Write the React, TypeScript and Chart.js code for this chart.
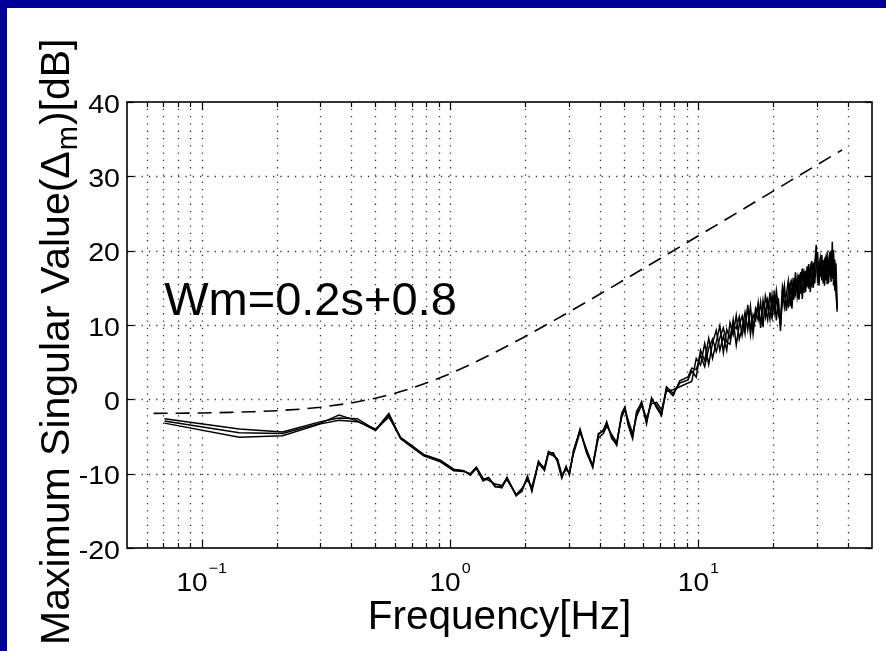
import React, { useEffect, useRef } from 'react';
import { Chart, registerables } from 'chart.js';

Chart.register(...registerables);

// ---- data ----
const freqHz = [
  0.0708, 0.1416, 0.2115, 0.3013, 0.357, 0.423, 0.501, 0.567, 0.632, 0.699,
  0.783, 0.914, 1.034, 1.134, 1.206, 1.275, 1.357, 1.429, 1.52, 1.617,
  1.694, 1.846, 1.946, 2.049, 2.135, 2.269, 2.399, 2.489, 2.607, 2.705,
  2.818, 2.932, 3.023, 3.137, 3.337, 3.55, 3.753, 3.953, 4.14, 4.272,
  4.474, 4.686, 4.908, 5.058, 5.215, 5.432, 5.637, 5.903, 6.182, 6.474,
  6.781, 7.102, 7.437, 7.907, 8.412, 9.082,
  9.4, 9.8, 10.2, 10.6, 11.0, 11.4, 11.8, 12.2, 12.6, 13.0,
  13.4, 13.8, 14.2, 14.6, 15.0, 15.4, 15.8, 16.2, 16.6, 17.0,
  17.4, 17.8, 18.2, 18.6, 19.0, 19.4, 19.8, 20.2, 20.6, 21.0,
  21.4, 21.8, 22.2, 22.6, 23.0, 23.4, 23.8, 24.2, 24.6, 25.0,
  25.4, 25.8, 26.2, 26.6, 27.0, 27.4, 27.8, 28.2, 28.6, 29.0,
  29.4, 29.8, 30.2, 30.6, 31.0, 31.4, 31.8, 32.2, 32.6, 33.0,
  33.4, 33.8, 34.2, 34.6, 35.0, 35.4, 35.8, 36.2,
];

const svCase1 = [
  -2.6, -4.0, -4.4, -3.0, -2.5, -2.6, -4.1, -1.9, -5.2, -6.3,
  -7.5, -8.3, -9.5, -9.6, -10.1, -9.2, -10.8, -10.5, -11.7, -11.9,
  -10.6, -13.0, -12.2, -10.5, -12.2, -8.3, -9.4, -7.0, -7.4, -8.2,
  -10.4, -9.2, -10.0, -7.1, -4.0, -7.1, -9.2, -4.8, -4.1, -3.2,
  -5.0, -6.2, -1.9, -1.0, -3.2, -5.0, -1.9, -0.3, -3.0, -0.1,
  -0.8, -1.9, 1.7, 0.8, 2.2, 2.6,
  3.8, 3.0, 6.6, 5.2, 8.2, 5.5, 7.7, 9.9, 6.3, 9.4,
  8.2, 10.7, 7.3, 10.0, 11.2, 8.9, 12.7, 8.7, 11.4, 10.6,
  13.0, 9.6, 12.8, 12.2, 10.7, 14.4, 11.8, 14.0, 10.6, 13.6,
  9.2, 14.8, 12.4, 14.1, 15.9, 12.5, 15.1, 14.2, 17.1, 13.8,
  15.4, 17.1, 13.5, 16.8, 15.3, 17.9, 14.9, 17.0, 18.6, 15.0,
  17.8, 20.8, 15.6, 18.5, 16.5, 19.4, 15.6, 18.1, 19.1, 15.5,
  18.4, 19.8, 15.8, 21.2, 15.3, 18.8, 14.5, 11.8,
];

const svCase2 = [
  -2.9, -4.5, -4.6, -3.2, -2.1, -2.9, -4.2, -2.2, -5.3, -6.4,
  -7.6, -8.4, -9.6, -9.7, -10.0, -9.1, -10.6, -10.9, -11.4, -11.6,
  -10.8, -12.8, -12.0, -10.8, -11.8, -8.6, -9.6, -7.3, -7.6, -8.0,
  -10.1, -9.5, -9.8, -7.4, -4.4, -6.8, -8.9, -5.2, -4.6, -3.6,
  -4.7, -5.8, -2.4, -1.4, -2.8, -4.6, -2.3, -0.8, -2.5, -0.6,
  -0.4, -1.4, 1.1, 1.3, 1.7, 2.2,
  2.4, 5.5, 4.6, 7.5, 4.7, 7.6, 9.3, 6.6, 8.5, 6.6,
  10.3, 8.7, 11.3, 8.1, 9.6, 11.7, 9.4, 12.5, 8.8, 11.9,
  10.7, 13.1, 9.7, 13.9, 12.5, 10.8, 14.0, 11.7, 14.6, 12.2,
  9.9, 13.5, 15.3, 11.9, 14.5, 15.6, 12.2, 16.3, 14.3, 16.2,
  13.4, 15.9, 17.6, 14.3, 17.3, 15.1, 18.2, 14.4, 16.8, 18.4,
  15.6, 18.2, 19.8, 15.3, 19.1, 16.8, 18.7, 15.3, 18.5, 19.4,
  15.6, 17.9, 20.0, 16.2, 20.1, 14.6, 18.3, 12.6,
];

const svCase3 = [
  -3.2, -5.1, -4.9, -3.3, -2.8, -3.0, -4.0, -2.4, -5.1, -6.2,
  -7.4, -8.2, -9.4, -9.6, -10.2, -9.3, -11.0, -10.6, -11.8, -11.7,
  -10.5, -12.9, -12.4, -10.3, -12.4, -8.5, -9.2, -7.2, -7.2, -8.4,
  -10.6, -9.0, -10.2, -6.9, -4.2, -7.3, -9.0, -4.6, -4.3, -3.0,
  -5.3, -6.0, -2.1, -1.2, -3.5, -5.3, -1.6, -0.5, -3.3, 0.2,
  -1.1, -2.2, 1.4, 0.5, 2.5, 3.0,
  4.2, 4.0, 5.9, 4.4, 6.9, 8.1, 6.4, 8.3, 9.6, 7.7,
  7.4, 10.0, 9.5, 11.1, 8.6, 10.6, 12.1, 9.9, 9.3, 12.3,
  11.7, 10.4, 13.3, 11.1, 13.4, 12.1, 10.9, 14.2, 13.2, 11.5,
  10.3, 15.2, 14.0, 13.0, 12.5, 15.2, 16.0, 13.4, 15.7, 14.7,
  16.8, 14.2, 16.3, 17.1, 14.4, 17.0, 16.5, 17.7, 15.1, 17.4,
  18.3, 19.5, 16.4, 17.8, 19.0, 16.0, 18.3, 18.8, 16.0, 18.5,
  16.6, 19.1, 17.9, 20.0, 16.3, 17.7, 15.1, 12.2,
];

// weighting curve Wm (dashed)
const weightFreqHz = [
  0.064, 0.08, 0.1, 0.13, 0.16, 0.2, 0.25, 0.3, 0.4, 0.5,
  0.6, 0.7, 0.85, 1, 1.2, 1.5, 2, 2.5, 3, 4,
  5, 6, 7, 8.5, 10, 12, 15, 18, 20, 25,
  30, 34, 37.9,
];
const weightDb = [
  -1.89, -1.87, -1.83, -1.76, -1.67, -1.53, -1.32, -1.07, -0.49, 0.15,
  0.82, 1.5, 2.51, 3.46, 4.65, 6.23, 8.42, 10.22, 11.72, 14.13,
  16.03, 17.6, 18.92, 20.6, 22.0, 23.58, 25.51, 27.09, 28.01, 29.95,
  31.53, 32.62, 33.56,
];

const yTicks = [-20, -10, 0, 10, 20, 30, 40];
const xMajorTicks = [0.1, 1, 10];
const xMajorExp = ['\u22121', '0', '1'];
const xMinorTicks = [
  0.06, 0.07, 0.08, 0.09, 0.2, 0.3, 0.4, 0.5, 0.6, 0.7, 0.8, 0.9,
  2, 3, 4, 5, 6, 7, 8, 9, 20, 30, 40,
];

const titleText = 'Wm=0.2s+0.8';
const xTitle = 'Frequency[Hz]';
const yTitleA = 'Maximum Singular Value(\u0394';
const yTitleSub = 'm';
const yTitleB = ')[dB]';

const FONT = '"Liberation Sans", Arial, Helvetica, sans-serif';

function txt(ctx: CanvasRenderingContext2D, s: string, x: number, y: number, size: number, sx: number, align: CanvasTextAlign) {
  ctx.save();
  ctx.translate(x, y);
  ctx.scale(sx, 1);
  ctx.font = `${size}px ${FONT}`;
  ctx.textAlign = align;
  ctx.textBaseline = 'alphabetic';
  ctx.fillStyle = '#000';
  ctx.fillText(s, 0, 0);
  ctx.restore();
}

const bgPlugin = {
  id: 'bg',
  beforeDraw(chart: any) {
    const ctx = chart.ctx as CanvasRenderingContext2D;
    ctx.save();
    ctx.fillStyle = '#ffffff';
    ctx.fillRect(0, 0, chart.width, chart.height);
    ctx.fillStyle = '#000099';
    ctx.fillRect(0, 0, chart.width, 8);
    ctx.fillRect(0, 0, 7, chart.height);
    ctx.restore();
  },
};

const gridPlugin = {
  id: 'mgrid',
  beforeDatasetsDraw(chart: any) {
    const ctx = chart.ctx as CanvasRenderingContext2D;
    const { left, right, top, bottom } = chart.chartArea;
    const xs = chart.scales.x;
    const ys = chart.scales.y;
    ctx.save();
    ctx.strokeStyle = '#333';
    ctx.lineWidth = 1.3;
    ctx.setLineDash([1.3, 6]);
    [...xMinorTicks, ...xMajorTicks].forEach((v) => {
      const px = Math.round(xs.getPixelForValue(v)) + 0.5;
      ctx.beginPath();
      ctx.moveTo(px, bottom);
      ctx.lineTo(px, top);
      ctx.stroke();
    });
    yTicks.forEach((v) => {
      const py = Math.round(ys.getPixelForValue(v)) + 0.5;
      if (py < top + 2 || py > bottom - 2) return;
      ctx.beginPath();
      ctx.moveTo(left, py);
      ctx.lineTo(right, py);
      ctx.stroke();
    });
    ctx.restore();
  },
};

const framePlugin = {
  id: 'frame',
  afterDatasetsDraw(chart: any) {
    const ctx = chart.ctx as CanvasRenderingContext2D;
    const { left, right, top, bottom } = chart.chartArea;
    const xs = chart.scales.x;
    const ys = chart.scales.y;
    ctx.save();
    ctx.strokeStyle = '#000';
    ctx.lineWidth = 1.6;
    ctx.setLineDash([]);
    ctx.strokeRect(left, top, right - left, bottom - top);
    ctx.lineWidth = 1.2;
    const tick = (x1: number, y1: number, x2: number, y2: number) => {
      ctx.beginPath();
      ctx.moveTo(x1, y1);
      ctx.lineTo(x2, y2);
      ctx.stroke();
    };
    xMajorTicks.forEach((v) => {
      const px = Math.round(xs.getPixelForValue(v)) + 0.5;
      tick(px, bottom, px, bottom - 8);
      tick(px, top, px, top + 8);
    });
    xMinorTicks.forEach((v) => {
      const px = Math.round(xs.getPixelForValue(v)) + 0.5;
      tick(px, bottom, px, bottom - 5);
      tick(px, top, px, top + 5);
    });
    yTicks.forEach((v) => {
      const py = Math.round(ys.getPixelForValue(v)) + 0.5;
      tick(left, py, left + 7, py);
      tick(right, py, right - 7, py);
    });
    ctx.restore();

    // y tick labels
    yTicks.forEach((v) => {
      const py = ys.getPixelForValue(v);
      txt(ctx, String(v), left - 7, py + 10.5, 26, 1.1, 'right');
    });
    // x tick labels with superscripts
    xMajorTicks.forEach((v, i) => {
      const px = xs.getPixelForValue(v);
      ctx.save();
      ctx.font = `26px ${FONT}`;
      const w10 = ctx.measureText('10').width * 1.08;
      ctx.font = `15px ${FONT}`;
      const wSup = ctx.measureText(xMajorExp[i]).width * 1.08;
      ctx.restore();
      const start = px - (w10 + wSup + 1) / 2;
      txt(ctx, '10', start, 590.5, 26, 1.08, 'left');
      txt(ctx, xMajorExp[i], start + w10 + 1, 573, 15, 1.08, 'left');
    });
    // x title
    txt(ctx, xTitle, (left + right) / 2, 629, 40.5, 1.0, 'center');
    // annotation
    txt(ctx, titleText, xs.getPixelForValue(0.0706), ys.getPixelForValue(11.3), 47, 1.0, 'left');

    // y title (rotated)
    ctx.save();
    const baseX = 69;
    const startY = 645;
    ctx.font = `41px ${FONT}`;
    const wA = ctx.measureText(yTitleA).width;
    ctx.font = `29px ${FONT}`;
    const wS = ctx.measureText(yTitleSub).width;
    ctx.fillStyle = '#000';
    ctx.textBaseline = 'alphabetic';
    ctx.textAlign = 'left';
    ctx.translate(baseX, startY);
    ctx.rotate(-Math.PI / 2);
    ctx.font = `41px ${FONT}`;
    ctx.fillText(yTitleA, 0, 0);
    ctx.font = `29px ${FONT}`;
    ctx.fillText(yTitleSub, wA + 1, 8);
    ctx.font = `41px ${FONT}`;
    ctx.fillText(yTitleB, wA + wS + 2, 0);
    ctx.restore();
  },
};

function pts(xs: number[], ys: number[]) {
  return xs.map((x, i) => ({ x, y: ys[i] }));
}

export default function App() {
  const ref = useRef<HTMLCanvasElement>(null);
  useEffect(() => {
    const canvas = ref.current;
    if (!canvas) return;
    const lineStyle = {
      borderColor: '#000',
      borderWidth: 1.5,
      pointRadius: 0,
      fill: false,
      tension: 0,
    };
    const chart = new Chart(canvas, {
      type: 'line',
      data: {
        datasets: [
          { label: 'Wm', data: pts(weightFreqHz, weightDb), borderColor: '#000', borderWidth: 1.6, borderDash: [14, 8], pointRadius: 0, fill: false, tension: 0 },
          { label: 'case 1', data: pts(freqHz, svCase1), ...lineStyle },
          { label: 'case 2', data: pts(freqHz, svCase2), ...lineStyle },
          { label: 'case 3', data: pts(freqHz, svCase3), ...lineStyle },
        ],
      },
      options: {
        animation: false,
        responsive: false,
        maintainAspectRatio: false,
        devicePixelRatio: 1,
        layout: { padding: { left: 127, right: 14, top: 102, bottom: 103 } },
        plugins: { legend: { display: false }, tooltip: { enabled: false } },
        scales: {
          x: { type: 'logarithmic', min: 0.05, max: 50, display: false },
          y: { type: 'linear', min: -20, max: 40, display: false },
        },
      },
      plugins: [bgPlugin, gridPlugin, framePlugin],
    } as any);
    return () => chart.destroy();
  }, []);
  return (
    <div style={{ position: 'fixed', left: 0, top: 0, width: 886, height: 651, background: '#fff' }}>
      <canvas ref={ref} width={886} height={651} style={{ width: 886, height: 651, display: 'block' }} />
    </div>
  );
}
